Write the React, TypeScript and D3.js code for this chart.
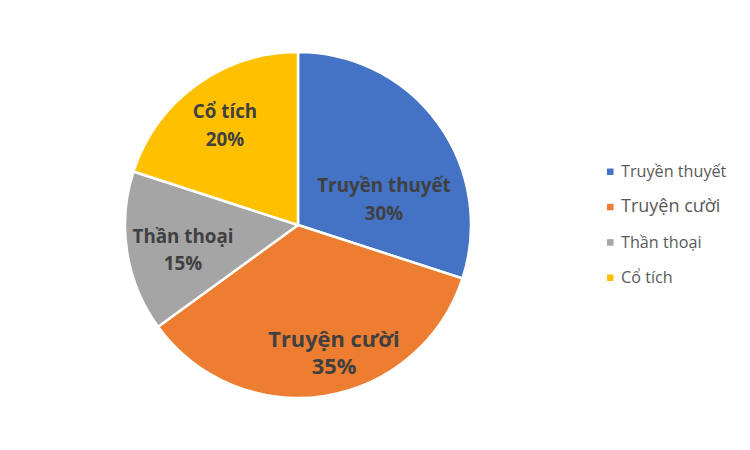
import React from "react";
import * as d3 from "d3";

const categories = ["Truyền thuyết", "Truyện cười", "Thần thoại", "Cổ tích"];
const values = [30, 35, 15, 20];
const colors = ["#4472C4", "#ED7D31", "#A5A5A5", "#FFC000"];

// label layout: offsets (px) of first baseline from pie centre, and font sizes
const labelOffsets: [number, number][] = [
  [86, -33],
  [36, 122],
  [-115, 18],
  [-73, -107],
];
const labelSizes = [18.8, 21.8, 18.8, 18.8];
const labelLineGap = [28, 27, 27, 28];
const legendSizes = [16.2, 18, 16.2, 16.2];

export default function App() {
  const width = 750;
  const height = 450;
  const cx = 298;
  const cy = 225;
  const r = 173;
  const total = d3.sum(values);
  const pie = d3.pie<number>().sort(null).value((d) => d);
  const arcs = pie(values);
  const arc = d3.arc<d3.PieArcDatum<number>>().innerRadius(0).outerRadius(r);
  const legendY = d3.scalePoint<number>().domain(d3.range(categories.length)).range([175, 281]);
  const font = "'Open Sans', 'DejaVu Sans', sans-serif";
  return (
    <svg width={width} height={height} style={{ position: "absolute", left: 0, top: 0, background: "#fff" }}>
      <rect width={width} height={height} fill="#fff" />
      <g transform={`translate(${cx},${cy})`}>
        {arcs.map((a, i) => (
          <path key={i} d={arc(a) || ""} fill={colors[i]} stroke="#fff" strokeWidth={2.5} strokeLinejoin="round" />
        ))}
        {arcs.map((a, i) => (
          <text key={"l" + i} textAnchor="middle" fontFamily={font} fontWeight={700} fontSize={labelSizes[i]} fill="#404040">
            <tspan x={labelOffsets[i][0]} y={labelOffsets[i][1]}>{categories[i]}</tspan>
            <tspan x={labelOffsets[i][0]} y={labelOffsets[i][1] + labelLineGap[i]}>
              {d3.format(".0%")(values[i] / total)}
            </tspan>
          </text>
        ))}
      </g>
      {categories.map((c, i) => (
        <g key={"lg" + i} transform={`translate(607,${legendY(i)})`}>
          <rect x={0} y={-6.5} width={6.5} height={6.5} fill={colors[i]} />
          <text x={14} y={2} fontFamily={font} fontSize={legendSizes[i]} fill="#595959">{c}</text>
        </g>
      ))}
    </svg>
  );
}
